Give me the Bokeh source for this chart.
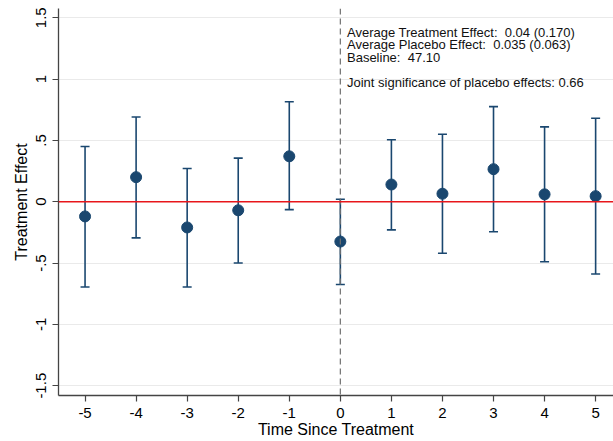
from bokeh.plotting import figure
from bokeh.models import ColumnDataSource, Whisker, TeeHead, Span, Label, FixedTicker, Range1d
from bokeh.embed import file_html
from bokeh.resources import INLINE

# ---- data ----
periods = [-5, -4, -3, -2, -1, 0, 1, 2, 3, 4, 5]
estimates = [-0.12, 0.20, -0.21, -0.07, 0.37, -0.325, 0.14, 0.065, 0.265, 0.06, 0.045]
ci_upper = [0.45, 0.69, 0.27, 0.355, 0.815, 0.02, 0.505, 0.55, 0.775, 0.61, 0.68]
ci_lower = [-0.695, -0.295, -0.695, -0.50, -0.065, -0.675, -0.23, -0.42, -0.245, -0.49, -0.59]
x_ticks = [-5, -4, -3, -2, -1, 0, 1, 2, 3, 4, 5]
x_tick_labels = ["-5", "-4", "-3", "-2", "-1", "0", "1", "2", "3", "4", "5"]
y_ticks = [-1.5, -1, -0.5, 0, 0.5, 1, 1.5]
y_tick_labels = ["-1.5", "-1", "-.5", "0", ".5", "1", "1.5"]
notes = [
    "Average Treatment Effect:\u00a0 0.04 (0.170)",
    "Average Placebo Effect:\u00a0 0.035 (0.063)",
    "Baseline:\u00a0 47.10",
    "",
    "Joint significance of placebo effects: 0.66",
]

FONT = "Liberation Sans"
NAVY = "#1a476f"
AXIS = "#444444"

src = ColumnDataSource(dict(x=periods, y=estimates, upper=ci_upper, lower=ci_lower))

p = figure(width=613, height=441, output_backend="svg", toolbar_location=None,
           x_range=Range1d(-5.52, 5.35), y_range=Range1d(-1.58, 1.575),
           min_border_left=58, min_border_right=0, min_border_top=8, min_border_bottom=46)
p.outline_line_color = None
p.background_fill_color = "white"
p.border_fill_color = "white"

# grid
p.xgrid.visible = False
p.ygrid.ticker = FixedTicker(ticks=y_ticks)
p.ygrid.grid_line_color = "#eaeaea"
p.ygrid.grid_line_width = 1

# reference lines
p.add_layout(Span(location=0, dimension="height", line_color="#707070",
                  line_dash="6 4", line_width=1.2))
p.add_layout(Span(location=0, dimension="width", line_color="#e8161b", line_width=1.5))

# error bars
w = Whisker(source=src, base="x", upper="upper", lower="lower",
            line_color=NAVY, line_width=1.6,
            upper_head=TeeHead(size=9, line_color=NAVY, line_width=1.6),
            lower_head=TeeHead(size=9, line_color=NAVY, line_width=1.6))
p.add_layout(w)
p.scatter("x", "y", source=src, size=11, fill_color=NAVY, line_color=NAVY)

# annotation
p.add_layout(Label(x=0.13, y=1.44, text="\n".join(notes), text_font=FONT,
                   text_font_size="13px", text_baseline="top", text_align="left",
                   text_line_height=0.83, text_color="#111111"))

# axes
p.xaxis.ticker = FixedTicker(ticks=x_ticks)
p.xaxis.major_label_overrides = {t: l for t, l in zip(x_ticks, x_tick_labels)}
p.yaxis.ticker = FixedTicker(ticks=y_ticks)
p.yaxis.major_label_overrides = {t: l for t, l in zip(y_ticks, y_tick_labels)}
p.yaxis.major_label_orientation = "vertical"
p.xaxis.axis_label = "Time Since Treatment"
p.yaxis.axis_label = "Treatment Effect"
for ax in (p.xaxis, p.yaxis):
    ax.axis_line_color = AXIS
    ax.axis_line_width = 1.3
    ax.major_tick_line_color = AXIS
    ax.major_tick_line_width = 1.2
    ax.major_tick_out = 6
    ax.major_tick_in = 0
    ax.minor_tick_line_color = None
    ax.major_label_text_font = FONT
    ax.major_label_text_font_size = "15px"
    ax.major_label_text_color = "black"
    ax.axis_label_text_font = FONT
    ax.axis_label_text_font_size = "16px"
    ax.axis_label_text_font_style = "normal"
    ax.axis_label_text_color = "black"
p.xaxis.major_label_standoff = 6
p.yaxis.major_label_standoff = 6
p.xaxis.axis_label_standoff = 0
p.yaxis.axis_label_standoff = 4

open("out.html", "w").write(file_html(p, INLINE))
